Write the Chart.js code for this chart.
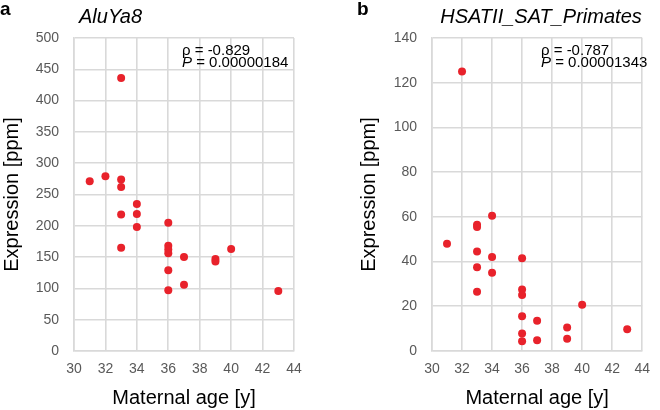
<!DOCTYPE html>
<html>
<head>
<meta charset="utf-8">
<script src="https://cdn.jsdelivr.net/npm/chart.js@4.4.1/dist/chart.umd.min.js"></script>
<style>
  body { margin: 0; background: #fff; }
  #wrap { position: relative; width: 660px; height: 410px; }
  canvas { position: absolute; top: 0; }
</style>
</head>
<body>
<div id="wrap">
  <canvas id="chart-alu" width="330" height="410" style="left:0"></canvas>
  <canvas id="chart-hsat" width="330" height="410" style="left:330px"></canvas>
</div>
<script>
// AluYa8 (panel a)
var alu_age  = [31, 32, 33, 33, 33, 33, 33, 34, 34, 34, 36, 36, 36, 36, 36, 36, 37, 37, 39, 39, 40, 43];
var alu_expr = [271, 279, 436, 274, 262, 218, 165, 235, 219, 198, 205, 168, 162, 156, 129, 97, 150, 106, 147, 143, 163, 96];

// HSATII_SAT_Primates (panel b)
var hsat_age  = [31, 32, 33, 33, 33, 33, 33, 34, 34, 34, 36, 36, 36, 36, 36, 36, 37, 37, 39, 39, 40, 43];
var hsat_expr = [48, 125, 56.5, 55.5, 44.5, 37.5, 26.5, 60.5, 42, 35, 41.5, 27.5, 25, 15.5, 7.8, 4.4, 13.5, 4.8, 10.5, 5.5, 20.7, 9.7];

var age_ticks = [30, 32, 34, 36, 38, 40, 42, 44];

var red = "#e8222b";
var gridColor = "#d9d9d9";
var tickColor = "#595959";
var fontName = "'Liberation Sans', Arial, Helvetica, sans-serif";

function toPoints(xs, ys) {
  var pts = [];
  for (var i = 0; i < xs.length; i++) {
    pts.push({ x: xs[i], y: ys[i] });
  }
  return pts;
}

// draws panel letter, italic title and the rho / P text
function labelsPlugin(cfg) {
  return {
    id: "labels",
    afterDraw: function (chart) {
      var ctx = chart.ctx;
      ctx.save();
      ctx.fillStyle = "#000";
      ctx.textBaseline = "alphabetic";
      ctx.textAlign = "left";

      ctx.font = "bold 19px " + fontName;
      ctx.fillText(cfg.letter, cfg.letterX, 15);

      ctx.font = "italic 20px " + fontName;
      if (cfg.titleCenter) {
        ctx.textAlign = "center";
        ctx.fillText(cfg.title, cfg.titleX, 23);
        ctx.textAlign = "left";
      } else {
        ctx.fillText(cfg.title, cfg.titleX, 23);
      }

      ctx.font = "15px " + fontName;
      ctx.fillText("\u03c1 = " + cfg.rho, cfg.statX, 55);
      ctx.font = "italic 15px " + fontName;
      ctx.fillText("P", cfg.statX, 67);
      var pw = ctx.measureText("P").width;
      ctx.font = "15px " + fontName;
      ctx.fillText(" = " + cfg.p, cfg.statX + pw, 67);
      ctx.restore();
    }
  };
}

function makeChart(id, xs, ys, yMax, yStep, axisWidth, padRight, yTitlePad, labels) {
  var canvas = document.getElementById(id);
  return new Chart(canvas.getContext("2d"), {
    type: "scatter",
    data: {
      datasets: [{
        data: toPoints(xs, ys),
        backgroundColor: red,
        borderColor: red,
        pointRadius: 4,
        pointBorderWidth: 0
      }]
    },
    options: {
      responsive: false,
      animation: false,
      layout: { padding: { left: 0, right: padRight, top: 38, bottom: 0 } },
      plugins: {
        legend: { display: false },
        tooltip: { enabled: false }
      },
      scales: {
        x: {
          type: "linear",
          min: 30,
          max: 44,
          afterBuildTicks: function (scale) {
            scale.ticks = age_ticks.map(function (v) { return { value: v }; });
          },
          afterFit: function (scale) { scale.height = 59; },
          grid: { color: gridColor, lineWidth: 1.6, drawTicks: false },
          border: { color: gridColor, width: 1.6 },
          ticks: { color: tickColor, font: { family: fontName, size: 14 }, padding: 10 },
          title: {
            display: true,
            text: "Maternal age [y]",
            color: "#000",
            font: { family: fontName, size: 20 },
            padding: { top: 0, bottom: 0 }
          }
        },
        y: {
          min: 0,
          max: yMax,
          afterFit: function (scale) { scale.width = axisWidth; },
          grid: { color: gridColor, lineWidth: 1.6, drawTicks: false },
          border: { color: gridColor, width: 1.6 },
          ticks: { stepSize: yStep, color: tickColor, font: { family: fontName, size: 14 }, padding: 15 },
          title: {
            display: true,
            text: "Expression [ppm]",
            color: "#000",
            font: { family: fontName, size: 20 },
            padding: { top: yTitlePad, bottom: 0 }
          }
        }
      }
    },
    plugins: [labelsPlugin(labels)]
  });
}

makeChart("chart-alu", alu_age, alu_expr, 500, 50, 74, 36, 0, {
  letter: "a", letterX: 0,
  title: "AluYa8", titleX: 79, titleCenter: false,
  rho: "-0.829", p: "0.00000184", statX: 182
});

makeChart("chart-hsat", hsat_age, hsat_expr, 140, 20, 102, 8, 27, {
  letter: "b", letterX: 27,
  title: "HSATII_SAT_Primates", titleX: 211, titleCenter: true,
  rho: "-0.787", p: "0.00001343", statX: 211
});
</script>
</body>
</html>
